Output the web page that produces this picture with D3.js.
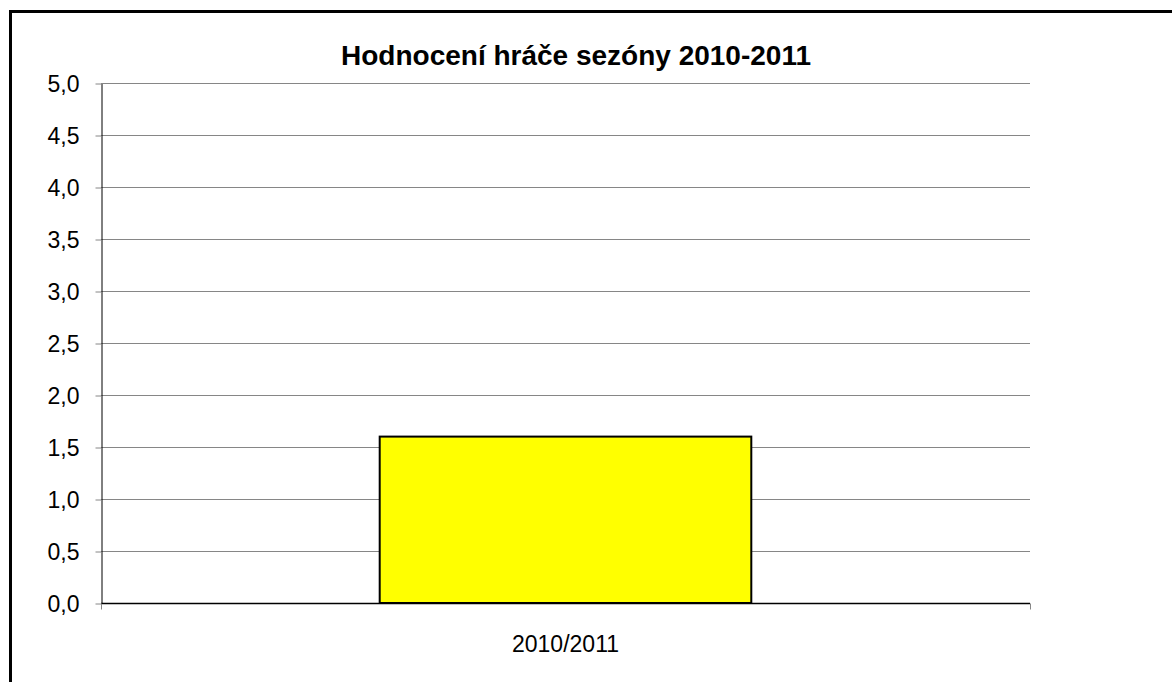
<!DOCTYPE html>
<html>
<head>
<meta charset="utf-8">
<script src="https://cdn.jsdelivr.net/npm/d3@7"></script>
<style>
	body { margin: 0; background: #fff; }
	svg text { font-family: "Liberation Sans", Arial, sans-serif; fill: #000; }
</style>
</head>
<body>
<svg id="chart" width="1172" height="682"></svg>
<script>
// chart data
const title      = "Hodnocení hráče sezóny 2010-2011"
const categories = ["2010/2011"]
const values     = [1.6]
const yTicks     = [0, 0.5, 1, 1.5, 2, 2.5, 3, 3.5, 4, 4.5, 5]

const svg = d3.select("#chart")

// outer frame (right and bottom edges fall outside the picture)
svg.append("rect")
	.attr("x", 10.5).attr("y", 11.5)
	.attr("width", 1200).attr("height", 700)
	.style("fill", "none")
	.style("stroke", "#000")
	.style("stroke-width", 3)

const plot = {left: 101, right: 1030, top: 83, bottom: 603}

const x = d3.scaleBand()
	.domain(categories)
	.range([plot.left, plot.right])
	.paddingInner(0.6).paddingOuter(0.3)   // excel gap width 150%

const y = d3.scaleLinear()
	.domain([0, 5])
	.range([plot.bottom, plot.top])

const fmt = d => d3.format(".1f")(d).replace(".", ",")

// gridlines
svg.append("g")
	.selectAll("line")
	.data(yTicks.filter(d => d > 0))
	.join("line")
	.attr("x1", plot.left).attr("x2", plot.right)
	.attr("y1", d => Math.round(y(d)) + 0.5).attr("y2", d => Math.round(y(d)) + 0.5)
	.style("stroke", "#868686")
	.style("stroke-width", 1)

// y axis
const yAxis = svg.append("g")
	.attr("transform", "translate(" + (plot.left + 0.5) + ",0.5)")
	.call(d3.axisLeft(y).tickValues(yTicks).tickFormat(fmt).tickSizeInner(6).tickSizeOuter(0).tickPadding(16))
yAxis.select(".domain").style("stroke", "#000")
yAxis.selectAll(".tick line").style("stroke", "#868686")
yAxis.selectAll("text").style("font-size", "23px").attr("dy", "0.35em")

// bars
svg.append("g")
	.selectAll("rect")
	.data(values)
	.join("rect")
	.attr("x", (d, i) => x(categories[i]))
	.attr("y", d => y(d))
	.attr("width", x.bandwidth())
	.attr("height", d => y(0) - y(d))
	.style("fill", "#ffff00")
	.style("stroke", "#000")
	.style("stroke-width", 2)

// x axis
const xAxis = svg.append("g")
	.attr("transform", "translate(0," + (plot.bottom + 0.5) + ")")
	.call(d3.axisBottom(x).tickSize(0).tickPadding(32))
xAxis.select(".domain").remove()
xAxis.append("line")
	.attr("x1", plot.left).attr("x2", plot.right)
	.style("stroke", "#000").style("stroke-width", 1.5)
xAxis.selectAll(".edge")
	.data([plot.left, plot.right])
	.join("line")
	.attr("class", "edge")
	.attr("x1", d => d + 0.5).attr("x2", d => d + 0.5)
	.attr("y1", 0).attr("y2", 6)
	.style("stroke", "#868686")
xAxis.selectAll(".tick text").style("font-size", "23px")

// title
svg.append("text")
	.attr("x", 576).attr("y", 65)
	.attr("text-anchor", "middle")
	.style("font-size", "28px")
	.style("font-weight", "bold")
	.text(title)
</script>
</body>
</html>
